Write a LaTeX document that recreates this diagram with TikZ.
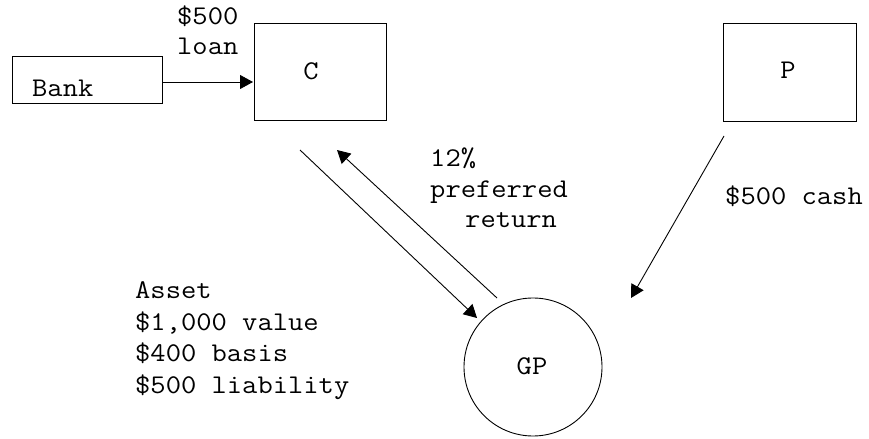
\documentclass[tikz,border=0pt]{standalone}
\usepackage{fontspec}
\setmonofont{Latin Modern Mono}[FakeStretch=1.1]
\usetikzlibrary{arrows.meta}
\begin{document}
\begin{tikzpicture}[x=1bp,y=-1bp,
  every node/.style={font=\ttfamily\fontsize{27bp}{31.5bp}\selectfont, inner sep=0pt},
  party/.style={draw, line width=0.9bp, rectangle},
  txt/.style={anchor=base west},
  flow/.style={line width=0.9bp, -{Triangle[length=13bp,width=14bp]}}]
\useasboundingbox (0,0) rectangle (869,439);
% parties
\node[party, minimum width=150bp, minimum height=47bp] (bank) at (87,79.5) {};
\node[txt] (banktxt) at (32,97) {Bank};
\node[party, minimum width=132bp, minimum height=97bp] (c) at (320,71.5) {};
\node (ctxt) at (311,71) {C};
\node[party, minimum width=133bp, minimum height=98bp] (p) at (789.5,72) {};
\node (ptxt) at (788,70) {P};
\node[draw, line width=0.9bp, circle, minimum size=138bp] (gp) at (533,367) {};
\node (gptxt) at (532,366) {GP};
% flow end points
\coordinate (bankout) at (163,82);
\coordinate (cin) at (253,82);
\coordinate (cdown) at (300,150);
\coordinate (gpin) at (477,318);
\coordinate (gpout) at (497,298);
\coordinate (cup) at (337,150);
\coordinate (pout) at (724,136);
\coordinate (gpinr) at (631,298);
% flows
\draw[flow] (bankout) -- (cin);
\draw[flow] (cdown) -- (gpin);
\draw[flow] (gpout) -- (cup);
\draw[flow] (pout) -- (gpinr);
% labels
\node[txt] (l1) at (177,25) {\$500};
\node[txt] (l2) at (177,55) {loan};
\node[txt] (r1) at (430,167) {12\%};
\node[txt] (r2) at (430,198) {preferred};
\node[txt] (r3) at (465,228) {return};
\node[txt] (cash) at (725,205) {\$500 cash};
\node[txt] (a1) at (135,299) {Asset};
\node[txt] (a2) at (135,331) {\$1,000 value};
\node[txt] (a3) at (135,362) {\$400 basis};
\node[txt] (a4) at (135,393) {\$500 liability};
\end{tikzpicture}
\end{document}
